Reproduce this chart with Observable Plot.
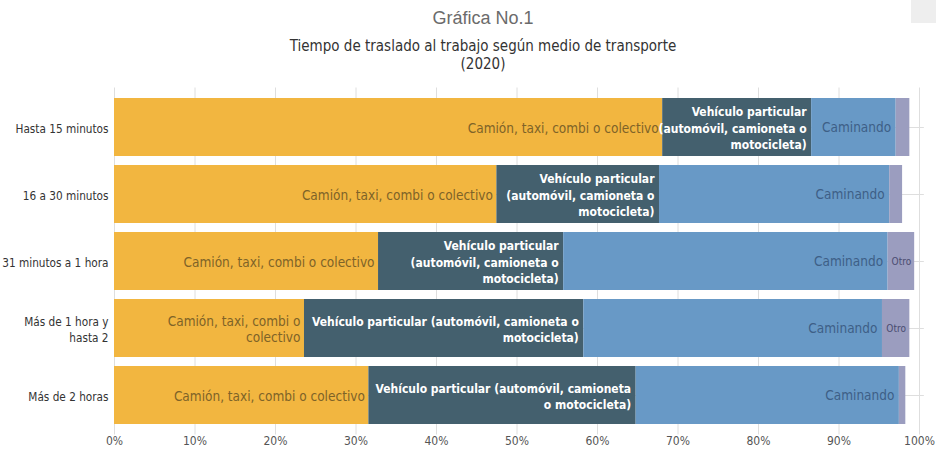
<!DOCTYPE html>
<html><head><meta charset="utf-8">
<script src="https://cdn.jsdelivr.net/npm/d3@7"></script>
<script src="https://cdn.jsdelivr.net/npm/@observablehq/plot@0.6"></script>
<style>
body{margin:0;background:#fff;width:936px;height:450px;position:relative;overflow:hidden;font-family:"Liberation Sans Narrow","DejaVu Sans Condensed",sans-serif;}
#corner{position:absolute;left:911px;top:0;width:25px;height:23px;background:#eeeeee;}
#t1{position:absolute;top:8px;left:0;width:966px;text-align:center;font-family:"Liberation Sans",Arial,sans-serif;font-size:18px;line-height:21px;color:#6b6b6b;}
#t2{position:absolute;top:37px;left:0;width:966px;text-align:center;font-size:15px;line-height:18px;color:#333;}
#chart{position:absolute;top:78px;left:0;}
</style></head>
<body>
<div id="corner"></div>
<div id="t1">Gráfica No.1</div>
<div id="t2">Tiempo de traslado al trabajo según medio de transporte<br>(2020)</div>
<div id="chart"></div>
<script>
const categories = ["Hasta 15 minutos", "16 a 30 minutos", "31 minutos a 1 hora", "Más de 1 hora y hasta 2", "Más de 2 horas"];
const categoryLabels = ["Hasta 15 minutos", "16 a 30 minutos", "31 minutos a 1 hora", "Más de 1 hora y\nhasta 2", "Más de 2 horas"];
const modes = ["Camión, taxi, combi o colectivo", "Vehículo particular (automóvil, camioneta o motocicleta)", "Caminando", "Otro"];
const camion    = [68.1, 47.5, 32.8, 23.6, 31.6];
const vehiculo  = [18.5, 20.2, 23.0, 34.7, 33.2];
const caminando = [10.5, 28.6, 40.3, 37.1, 32.7];
const otro      = [1.7, 1.6, 3.3, 3.4, 0.8];
const xTicks = [0, 10, 20, 30, 40, 50, 60, 70, 80, 90, 100];
// bar labels as shown (with line breaks), "" = no label
const camionLabels = ["Camión, taxi, combi o colectivo", "Camión, taxi, combi o colectivo", "Camión, taxi, combi o colectivo", "Camión, taxi, combi o\ncolectivo", "Camión, taxi, combi o colectivo"];
const vehiculoLabels = ["Vehículo particular\n(automóvil, camioneta o\nmotocicleta)", "Vehículo particular\n(automóvil, camioneta o\nmotocicleta)", "Vehículo particular\n(automóvil, camioneta o\nmotocicleta)", "Vehículo particular (automóvil, camioneta o\nmotocicleta)", "Vehículo particular (automóvil, camioneta\no motocicleta)"];
const caminandoLabels = ["Caminando", "Caminando", "Caminando", "Caminando", "Caminando"];
const otroLabels = ["", "", "Otro", "Otro", ""];

const colors = ["#F2B640", "#44606E", "#6899C6", "#9B9DBF"];
const series = [camion, vehiculo, caminando, otro];
const labels = [camionLabels, vehiculoLabels, caminandoLabels, otroLabels];

const rows = [];
categories.forEach((c, i) => {
  let acc = 0;
  series.forEach((s, k) => {
    rows.push({cat: c, mode: modes[k], k, x1: acc, x2: acc + s[i], label: labels[k][i]});
    acc += s[i];
  });
});
const labelMap = new Map(categories.map((c, i) => [c, categoryLabels[i]]));
const ff = '"Liberation Sans Narrow","DejaVu Sans Condensed",sans-serif';

const chart = Plot.plot({
  width: 936, height: 372,
  marginLeft: 114, marginRight: 17, marginTop: 9.5, marginBottom: 15.5,
  style: {fontFamily: ff, background: "transparent"},
  x: {domain: [0, 100], axis: null, label: null},
  y: {domain: categories, padding: 0.14, axis: null, label: null},
  color: {domain: modes, range: colors},
  marks: [
    Plot.gridX(xTicks, {stroke: "#dedede", strokeOpacity: 1}),
    Plot.gridY(categories, {stroke: "#dedede", strokeOpacity: 1, x1: 0, x2: 100.6}),
    Plot.barX(rows, {y: "cat", x1: "x1", x2: "x2", fill: "mode"}),
    Plot.text(rows.filter(d => d.k === 0 && d.label), {y: "cat", x: "x2", text: "label", textAnchor: "end", dx: -4, fill: "#7E6328", fontSize: 13.5, lineHeight: 1.2}),
    Plot.text(rows.filter(d => d.k === 1 && d.label), {ariaLabel: "vehiculo-labels", y: "cat", x: "x2", text: "label", textAnchor: "end", dx: -5, fill: "#ffffff", fontWeight: "bold", fontSize: 12, lineHeight: 1.35}),
    Plot.text(rows.filter(d => d.k === 2 && d.label), {y: "cat", x: "x2", text: "label", textAnchor: "end", dx: -5, fill: "#3E5F86", fontSize: 13.5}),
    Plot.text(rows.filter(d => d.k === 3 && d.label), {y: "cat", x: d => (d.x1 + d.x2) / 2, text: "label", fill: "#4A4C70", fontSize: 10}),
    Plot.axisX(xTicks, {tickFormat: d => d + "%", tickSize: 0, tickPadding: 1, fill: "#555", fontSize: 12, label: null}),
    Plot.axisY({ariaLabel: "ylabels", tickSize: 0, tickPadding: 6, fill: "#333", fontSize: 11.7, label: null, tickFormat: d => labelMap.get(d), lineHeight: 1.4})
  ]
});
const vg = chart.querySelector('g[aria-label="vehiculo-labels"]');
if (vg) vg.style.letterSpacing = "-0.3px";
document.getElementById("chart").appendChild(chart);
</script>
</body></html>
